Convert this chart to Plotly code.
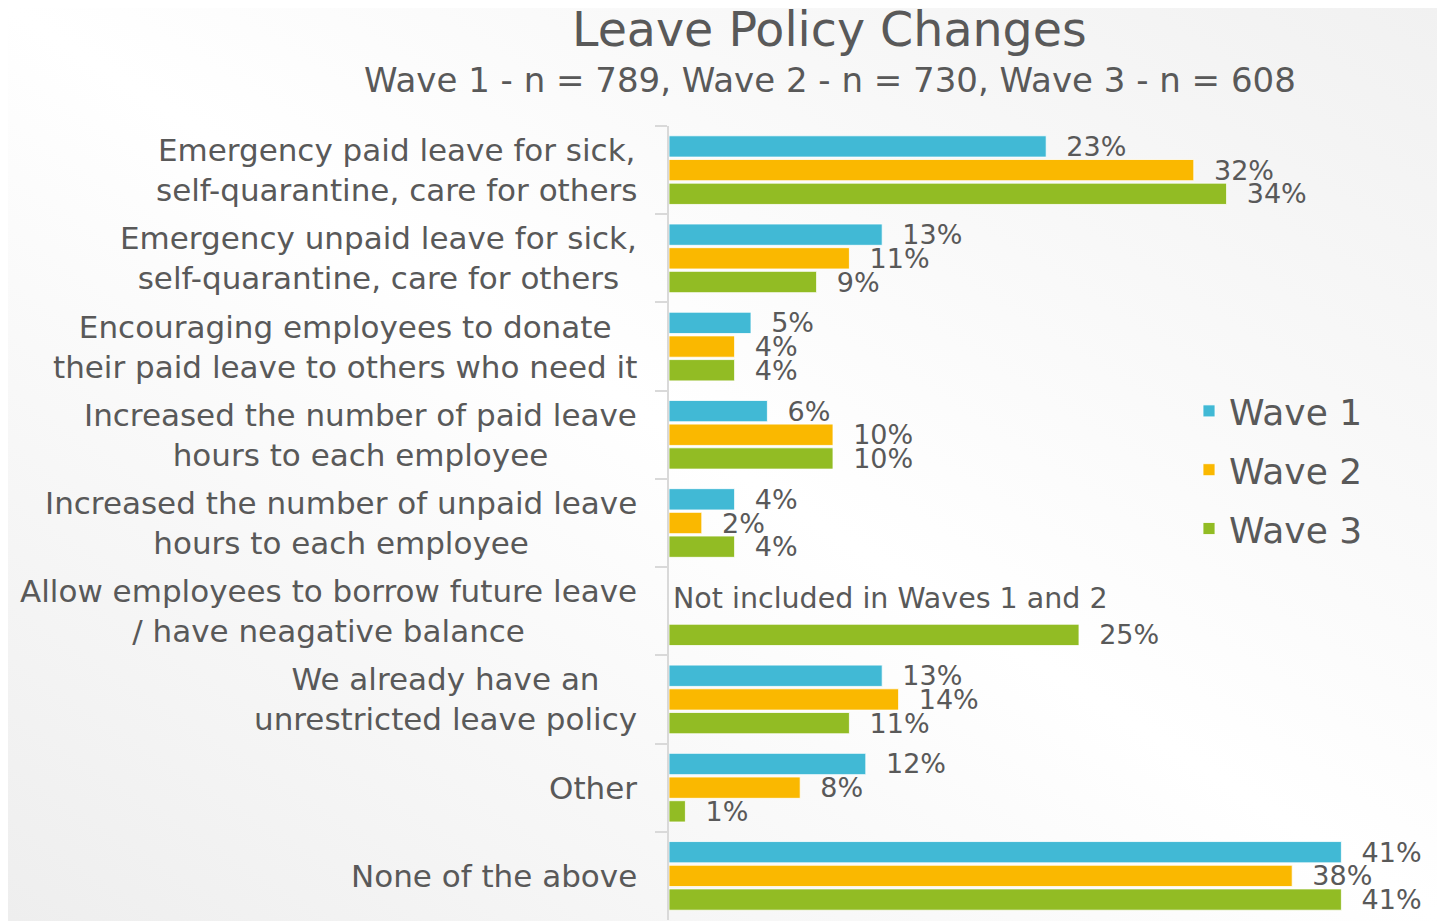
import base64
import plotly.graph_objects as go

categories = [
    "Emergency paid leave for sick,<br>self-quarantine, care for others",
    "Emergency unpaid leave for sick,<br>self-quarantine, care for others",
    "Encouraging employees to donate<br>their paid leave to others who need it",
    "Increased the number of paid leave<br>hours to each employee",
    "Increased the number of unpaid leave<br>hours to each employee",
    "Allow employees to borrow future leave<br>/ have neagative balance",
    "We already have an<br>unrestricted leave policy",
    "Other",
    "None of the above",
]
wave1 = [23, 13, 5, 6, 4, None, 13, 12, 41]
wave2 = [32, 11, 4, 10, 2, None, 14, 8, 38]
wave3 = [34, 9, 4, 10, 4, 25, 11, 1, 41]
series_names = ["Wave 1", "Wave 2", "Wave 3"]
colors = ["#41B9D5", "#FAB800", "#92BC24"]
title_text = "Leave Policy Changes"
subtitle_text = "Wave 1 - n = 789, Wave 2 - n = 730, Wave 3 - n = 608"
note_text = "Not included in Waves 1 and 2"

FONT = "DejaVu Sans"
TXT = "#595959"

# page body has an 8px margin: work in figure coords = reference px - 8
OFF = 8
W, H = 1445 - OFF, 921 - OFF
L, T, B = 669 - OFF, 126 - OFF, 1
pw, ph = W - L, H - T - B


def px_to_paper_x(px):
    return (px - OFF - L) / pw


def px_to_paper_y(py):
    return (H - B - (py - OFF)) / ph


fig = go.Figure()
for i, (name, vals) in enumerate(zip(series_names, [wave1, wave2, wave3])):
    fig.add_trace(go.Bar(
        y=categories, x=vals, orientation="h", name=name,
        marker=dict(color=colors[i], line=dict(width=1, color="rgba(255,255,255,0.8)")),
        text=[("\u00a0\u00a0" + f"{v}%") if v is not None else "" for v in vals],
        textposition="outside", constraintext="none", cliponaxis=False,
        textfont=dict(family=FONT, size=27, color=TXT),
        legendgroup=name, hoverinfo="skip",
    ))

annotations = []
for c in categories:
    annotations.append(dict(
        x=0, xref="paper", xshift=-30, y=c, yref="y", text=c,
        xanchor="right", yanchor="middle", align="center", showarrow=False,
        font=dict(family=FONT, size=31, color=TXT),
    ))
annotations.append(dict(
    x=0, xref="x", xshift=2, y=categories[5], yref="y", yshift=13, text=note_text,
    xanchor="left", yanchor="middle", showarrow=False,
    font=dict(family=FONT, size=28.5, color=TXT),
))
annotations.append(dict(
    x=px_to_paper_x(829), xref="paper", y=px_to_paper_y(30), yref="paper",
    text=title_text, showarrow=False,
    font=dict(family=FONT, size=47.5, color=TXT), xanchor="center", yanchor="middle",
))
annotations.append(dict(
    x=px_to_paper_x(830), xref="paper", y=px_to_paper_y(80), yref="paper",
    text=subtitle_text, showarrow=False,
    font=dict(family=FONT, size=34, color=TXT), xanchor="center", yanchor="middle",
))

svg = (
    '<svg xmlns="http://www.w3.org/2000/svg" width="100" height="100" preserveAspectRatio="none">'
    '<defs><linearGradient id="g" x1="0" y1="1" x2="1" y2="0">'
    '<stop offset="0" stop-color="#eeeeee"/>'
    '<stop offset="0.5" stop-color="#ffffff"/>'
    '<stop offset="1" stop-color="#f1f1f1"/>'
    '</linearGradient></defs>'
    '<rect width="100" height="100" fill="url(#g)"/></svg>'
)
bg_src = "data:image/svg+xml;base64," + base64.b64encode(svg.encode()).decode()

fig.update_layout(
    width=W, height=H,
    margin=dict(l=L, r=0, t=T, b=B, autoexpand=False),
    paper_bgcolor="white", plot_bgcolor="rgba(0,0,0,0)",
    barmode="group", bargap=0.195, bargroupgap=0.1,
    showlegend=True,
    legend=dict(
        x=px_to_paper_x(1189), xanchor="left", y=px_to_paper_y(381), yanchor="top",
        font=dict(family=FONT, size=36, color=TXT), tracegroupgap=9,
        bgcolor="rgba(0,0,0,0)",
    ),
    xaxis=dict(visible=False, range=[0, pw / 16.4]),
    yaxis=dict(
        autorange="reversed", showticklabels=False, ticks="outside",
        tickson="boundaries", ticklen=12, tickcolor="#D9D9D9", tickwidth=2,
        showline=True, linecolor="#D9D9D9", linewidth=2, showgrid=False,
    ),
    images=[dict(
        source=bg_src, xref="paper", yref="paper",
        x=-L / pw, y=(H - B) / ph, sizex=W / pw, sizey=H / ph,
        xanchor="left", yanchor="top", sizing="stretch", layer="below",
    )],
    annotations=annotations,
)

fig.write_html("out.html")
